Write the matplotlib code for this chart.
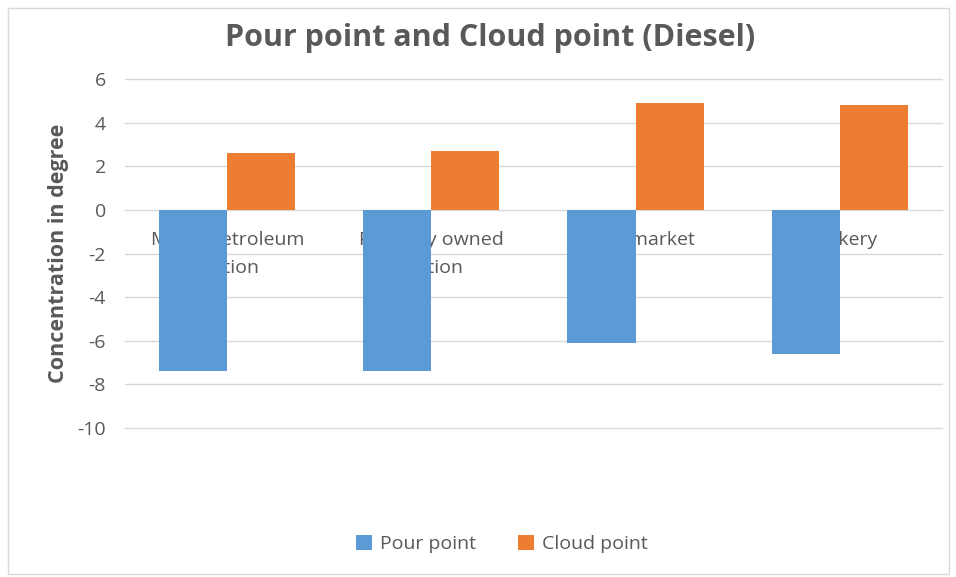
import numpy as np
import matplotlib.pyplot as plt
from matplotlib.patches import Rectangle

plt.rcParams['font.family'] = ['Open Sans', 'DejaVu Sans']
plt.rcParams['axes.unicode_minus'] = False

categories = ['Major Petroleum\nStation', 'Privately owned\nStation', 'Black market', 'Bunkery']
pour_point = [-7.4, -7.4, -6.1, -6.6]
cloud_point = [2.6, 2.7, 4.9, 4.8]
yticks = [6, 4, 2, 0, -2, -4, -6, -8, -10]

grey = '#595959'
fig = plt.figure(figsize=(9.56, 5.77), dpi=100)
ax = fig.add_axes([0.131, 0.258, 0.854, 0.605])

x = np.arange(len(categories))
w = 1 / 3
ax.bar(x - w / 2, pour_point, w, color='#5B9BD5', label='Pour point', zorder=3)
ax.bar(x + w / 2, cloud_point, w, color='#ED7D31', label='Cloud point', zorder=3)

# category labels sit behind the bars, like in the original
for xi, lab in zip(x, categories):
    ax.text(xi, -0.95, lab, ha='center', va='top', fontsize=14, color=grey,
            linespacing=1.75, zorder=1)

ax.set_xlim(-0.5, len(categories) - 0.5)
ax.set_ylim(-10, 6)
ax.set_yticks(yticks)
ax.set_xticks([])
ax.yaxis.grid(True, color='#D9D9D9', linewidth=1, zorder=0)
for gl in ax.yaxis.get_gridlines():
    gl.set_clip_on(False)
ax.tick_params(axis='y', length=0, labelsize=14, labelcolor=grey, pad=14)
for s in ax.spines.values():
    s.set_visible(False)

ax.set_ylabel('Concentration in degree', fontsize=15.5, fontweight='bold', color=grey, labelpad=6)
fig.text(0.513, 0.935, 'Pour point and Cloud point (Diesel)', ha='center', va='center',
         fontsize=22, fontweight='bold', color=grey)

fig.legend(loc='center', bbox_to_anchor=(0.525, 0.057), ncol=2, frameon=False,
           fontsize=14, handlelength=0.8, handleheight=0.8, columnspacing=2.2,
           handletextpad=0.4, labelcolor=grey)

fig.patches.append(Rectangle((0.008, 0.005), 0.985, 0.982, transform=fig.transFigure,
                             fill=False, edgecolor='#D9D9D9', linewidth=1))

plt.savefig('out.png')
